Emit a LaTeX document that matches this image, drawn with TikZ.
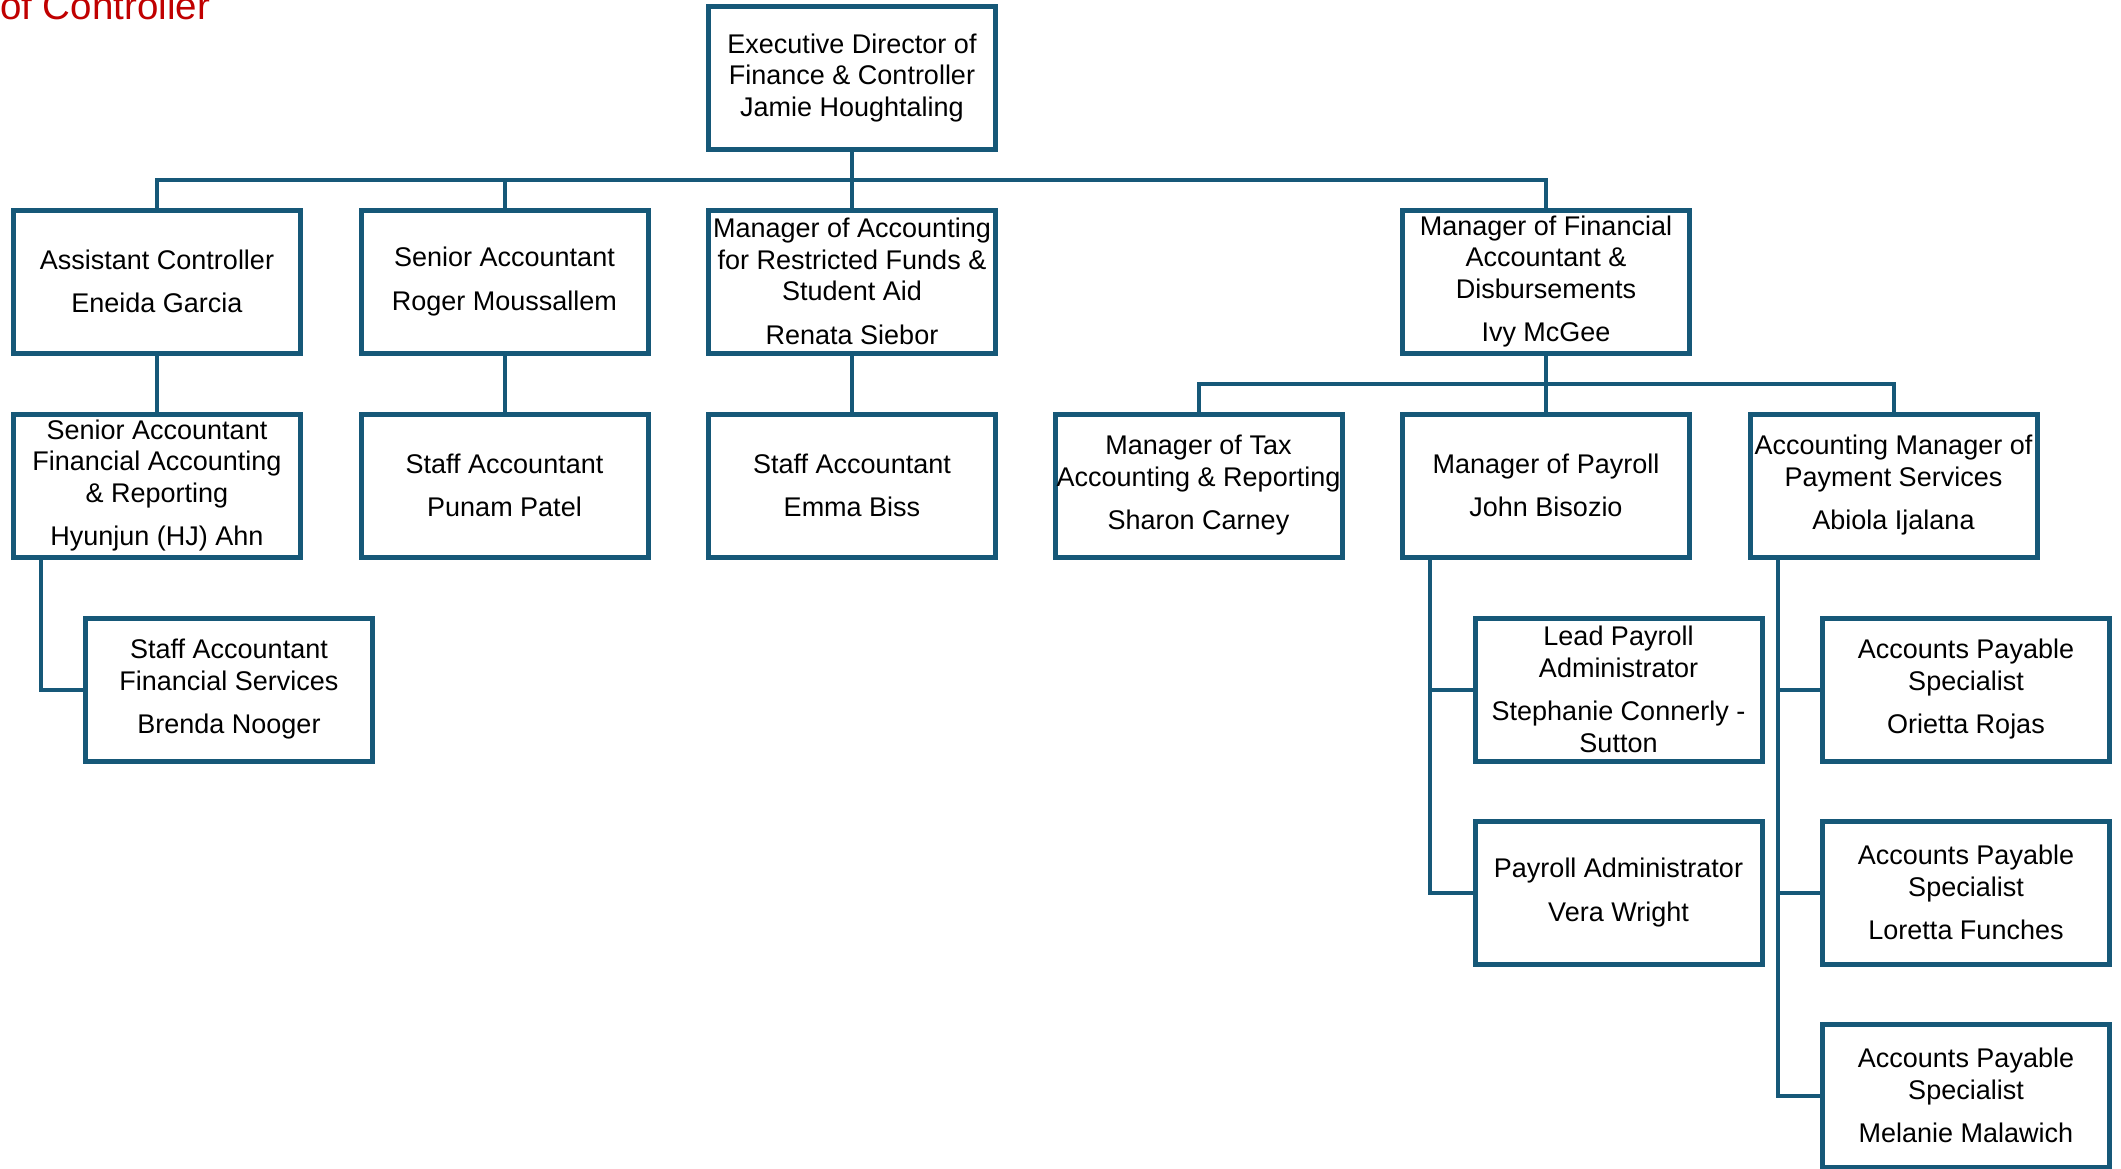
\documentclass[tikz,border=0pt]{standalone}
\usepackage{fontspec}
\setmainfont{Liberation Sans}
\definecolor{tealc}{RGB}{22,88,120}
\definecolor{titlered}{RGB}{192,0,0}
\begin{document}
\begin{tikzpicture}[x=1pt,y=-1pt,
  box/.style={draw=tealc, line width=5pt, minimum width=287pt, minimum height=143pt,
    inner sep=0pt, align=center, text=black, font=\fontsize{27}{31.5}\selectfont},
  conn/.style={draw=tealc, line width=4pt}]
\useasboundingbox (0,0) rectangle (2121,1168);
\node[anchor=base west, inner sep=0pt, text=titlered, font=\fontsize{38.5}{42}\selectfont] (ttl) at (0,19) {of Controller};
% level 0
\node[box] (exec) at (852,78) {Executive Director of\\Finance \& Controller\\Jamie Houghtaling};
% level 1
\node[box] (ac) at (157,281.5) {Assistant Controller\\[12pt]Eneida Garcia};
\node[box] (sa) at (504.5,281.5) {Senior Accountant\\[12pt]Roger Moussallem};
\node[box] (mra) at (852,281.5) {Manager of Accounting\\for Restricted Funds \&\\Student Aid\\[12pt]Renata Siebor};
\node[box] (mfa) at (1546,281.5) {Manager of Financial\\Accountant \&\\Disbursements\\[12pt]Ivy McGee};
% level 2
\node[box] (sfa) at (157,485.5) {Senior Accountant\\Financial Accounting\\\& Reporting\\[12pt]Hyunjun (HJ) Ahn};
\node[box] (pp) at (504.5,485.5) {Staff Accountant\\[12pt]Punam Patel};
\node[box] (eb) at (852,485.5) {Staff Accountant\\[12pt]Emma Biss};
\node[box] (mt) at (1198.5,485.5) {Manager of Tax\\Accounting \& Reporting\\[12pt]Sharon Carney};
\node[box] (mp) at (1546,485.5) {Manager of Payroll\\[12pt]John Bisozio};
\node[box] (amp) at (1893.5,485.5) {Accounting Manager of\\Payment Services\\[12pt]Abiola Ijalana};
% level 3
\node[box] (sfs) at (229,689.5) {Staff Accountant\\Financial Services\\[12pt]Brenda Nooger};
\node[box] (lpa) at (1618.5,689.5) {Lead Payroll\\Administrator\\[12pt]Stephanie Connerly -\\Sutton};
\node[box] (ap1) at (1966,689.5) {Accounts Payable\\Specialist\\[12pt]Orietta Rojas};
% level 4
\node[box] (pa) at (1618.5,892.5) {Payroll Administrator\\[12pt]Vera Wright};
\node[box] (ap2) at (1966,892.5) {Accounts Payable\\Specialist\\[12pt]Loretta Funches};
% level 5
\node[box] (ap3) at (1966,1095.5) {Accounts Payable\\Specialist\\[12pt]Melanie Malawich};
% connectors
\coordinate (bus0) at (852,180);
\coordinate (bus1) at (1546,384);
\draw[conn] (exec.south) -- (mra.north);
\draw[conn] (ac.north) -- (ac.north |- bus0) -- (mfa.north |- bus0) -- (mfa.north);
\draw[conn] (sa.north) -- (sa.north |- bus0);
\draw[conn] (ac.south) -- (sfa.north);
\draw[conn] (sa.south) -- (pp.north);
\draw[conn] (mra.south) -- (eb.north);
\draw[conn] (mfa.south) -- (mp.north);
\draw[conn] (mt.north) -- (mt.north |- bus1) -- (amp.north |- bus1) -- (amp.north);
\draw[conn] ([xshift=30pt]sfa.south west) |- (sfs.west);
\draw[conn] ([xshift=30pt]mp.south west) |- (pa.west);
\draw[conn] ([xshift=30pt]mp.south west) |- (lpa.west);
\draw[conn] ([xshift=30pt]amp.south west) |- (ap3.west);
\draw[conn] ([xshift=30pt]amp.south west) |- (ap2.west);
\draw[conn] ([xshift=30pt]amp.south west) |- (ap1.west);
\end{tikzpicture}
\end{document}
